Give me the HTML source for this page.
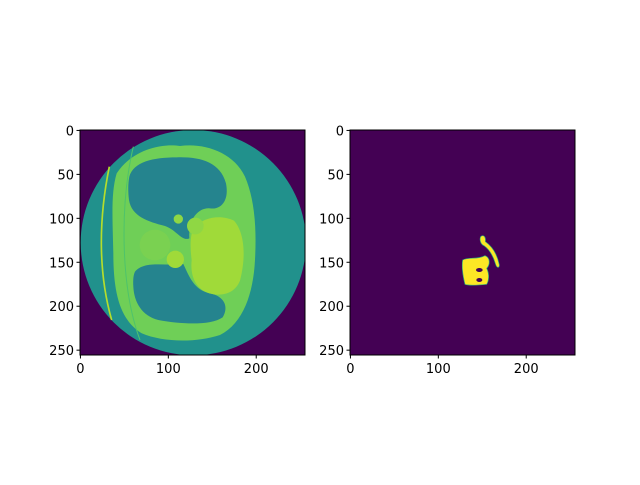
<!DOCTYPE html>
<html><head><meta charset="utf-8"><style>
body{margin:0;background:#fff}
svg text{font-family:"DejaVu Sans","Liberation Sans",sans-serif;font-size:13px;fill:#000}
</style></head><body>
<svg id="fig" width="640" height="480" viewBox="0 0 640 480" xmlns="http://www.w3.org/2000/svg">
<defs>
<clipPath id="c1"><rect x="80" y="130" width="225" height="225"/></clipPath>
<clipPath id="c2"><rect x="350" y="130" width="225" height="225"/></clipPath>
</defs>
<g clip-path="url(#c1)">
<rect x="80" y="130" width="225" height="225" fill="#440154"/>
<g transform="translate(70,120) scale(0.3333)">
<circle cx="370" cy="368" r="338" fill="#21918c"/>
<path d="M140,160 C190,85 280,70 330,78 C400,68 490,95 525,170 C555,240 560,330 555,420 C550,520 520,610 450,645 C380,668 280,668 215,640 C150,600 130,520 130,400 C128,300 122,220 140,160 Z" fill="#6fcf57"/>
<path d="M178,170 C190,125 250,112 320,112 C390,110 450,125 468,190 C478,240 455,270 420,265 C390,262 355,290 358,355 C335,365 320,330 285,318 C235,305 185,290 177,240 C174,215 174,190 178,170 Z" fill="#25848e"/>
<path d="M195,455 C225,420 290,440 340,432 C358,470 372,510 420,520 C462,528 478,560 458,592 C420,618 330,612 265,600 C215,588 192,545 190,500 C189,480 190,465 195,455 Z" fill="#25848e"/>
<path d="M372,322 C400,292 452,282 492,302 C522,335 530,405 510,482 C494,522 455,530 418,520 C378,508 360,470 365,420 C360,382 360,342 372,322 Z" fill="#a0da39"/>
<circle cx="316" cy="418" r="26" fill="#a0da39"/>
<circle cx="376" cy="318" r="25" fill="#8fd744"/>
<circle cx="325" cy="297" r="14" fill="#8fd744"/>
<circle cx="255" cy="375" r="46" fill="#7ad151"/>
<path d="M118,140 C85,300 85,460 125,600" stroke="#b5de2b" stroke-width="5" fill="none"/>
<path d="M190,80 C150,250 150,500 210,660" stroke="#4ec36b" stroke-width="3" fill="none"/>
</g>
</g>
<rect x="80" y="130" width="225" height="225" fill="none" stroke="#000" stroke-width="1"/>
<g clip-path="url(#c2)">
<rect x="350" y="130" width="225" height="225" fill="#440154"/>
<g transform="translate(440,225) scale(0.3333)">
<path d="M68,105 C90,95 110,105 135,92 C152,98 150,120 140,130 C150,150 145,170 140,178 C120,180 85,182 75,178 C68,150 65,125 68,105 Z" fill="#fde725" stroke="#2fb47c" stroke-width="2"/>
<path d="M122,35 C130,28 138,35 136,50 C150,60 170,80 178,120 C178,130 170,130 166,115 C160,95 150,75 132,62 C122,58 118,45 122,35 Z" fill="#fde725" stroke="#2fb47c" stroke-width="2"/>
<ellipse cx="118" cy="135" rx="10" ry="6" fill="#440154"/>
<ellipse cx="118" cy="165" rx="9" ry="6" fill="#440154"/>
</g>
</g>
<rect x="350" y="130" width="225" height="225" fill="none" stroke="#000" stroke-width="1"/>
<g id="ticks"></g>
</svg>
<script>
const xTickValues=[0,100,200];
const yTickValues=[0,50,100,150,200,250];
const axesLeft=[80,350];
const top0=130, size=225, n=256;
function sx(left,v){return left+(v+0.5)*size/n;}
function sy(v){return top0+(v+0.5)*size/n;}
const g=document.getElementById('ticks');
const NS='http://www.w3.org/2000/svg';
axesLeft.forEach(function(L){
  xTickValues.forEach(function(v){
    const x=sx(L,v);
    const t=document.createElementNS(NS,'line');
    
    
    t.setAttribute('x1',x);t.setAttribute('x2',x);t.setAttribute('y1',355);t.setAttribute('y2',358.5);t.setAttribute('stroke','#000');
    g.appendChild(t);
    const s=document.createElementNS(NS,'text');
    
    
    s.setAttribute('x',x);s.setAttribute('y',373);s.setAttribute('text-anchor','middle');
    s.textContent=v;g.appendChild(s);
  });
  yTickValues.forEach(function(v){
    const y=sy(v);
    const t=document.createElementNS(NS,'line');
    
    
    t.setAttribute('x1',L-3.5);t.setAttribute('x2',L);t.setAttribute('y1',y);t.setAttribute('y2',y);t.setAttribute('stroke','#000');
    g.appendChild(t);
    const s=document.createElementNS(NS,'text');
    
    
    s.setAttribute('x',L-6);s.setAttribute('y',y+5);s.setAttribute('text-anchor','end');
    s.textContent=v;g.appendChild(s);
  });
});
</script>
</body></html>
